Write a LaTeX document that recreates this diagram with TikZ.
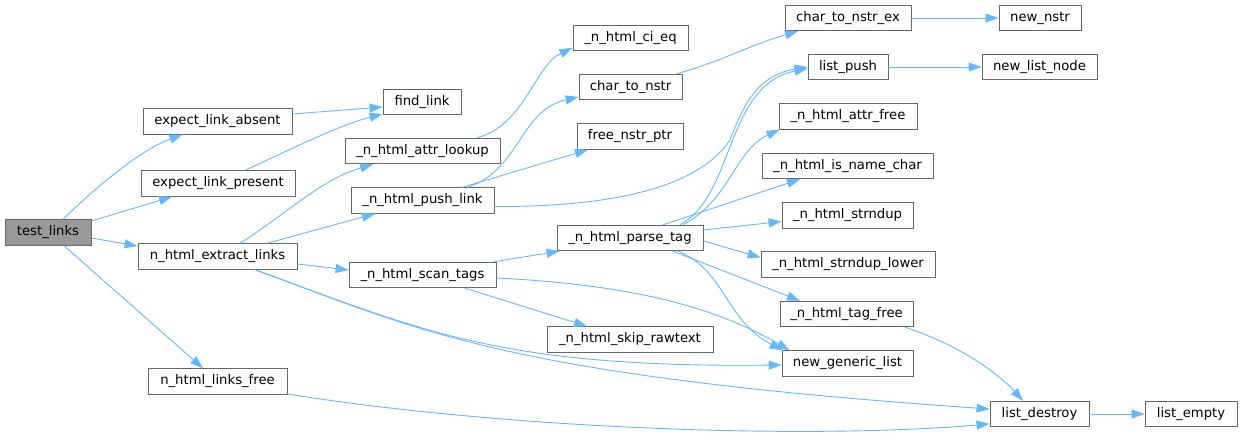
\documentclass[tikz,border=0pt]{standalone}
\usepackage{fontspec}
\setmainfont{DejaVu Sans}
\usetikzlibrary{arrows.meta,calc}
\definecolor{edgeblue}{HTML}{63B8FF}
\definecolor{boxline}{HTML}{666666}
\definecolor{rootfill}{HTML}{999999}
\tikzset{
  fbox/.style={draw=boxline, fill=white, line width=0.9pt, minimum height=25.5pt, inner sep=0pt, font=\fontsize{13.2}{15}\selectfont, text=black},
  rootbox/.style={fbox, fill=rootfill},
  calledge/.style={draw=edgeblue, line width=0.9pt, -{Triangle[length=13pt,width=9pt]}}
}
\begin{document}
\begin{tikzpicture}[x=1pt,y=-1pt]
\useasboundingbox (0,0) rectangle (1241,444);
% nodes
\node[rootbox, minimum width=86pt]  (tl)  at (48,232.5)   {test\_links};
\node[fbox, minimum width=149pt] (ela) at (217.5,121.5) {expect\_link\_absent};
\node[fbox, minimum width=154pt] (elp) at (218,183.5)   {expect\_link\_present};
\node[fbox, minimum width=159pt] (hel) at (217.5,256.5) {n\_html\_extract\_links};
\node[fbox, minimum width=139pt] (hlf) at (217.5,381.5) {n\_html\_links\_free};
\node[fbox, minimum width=78pt]  (fl)  at (422,102)     {find\_link};
\node[fbox, minimum width=155pt] (al)  at (422.5,151)   {\_n\_html\_attr\_lookup};
\node[fbox, minimum width=143pt] (pl)  at (422.5,200.5) {\_n\_html\_push\_link};
\node[fbox, minimum width=147pt] (st)  at (422.5,275)   {\_n\_html\_scan\_tags};
\node[fbox, minimum width=115pt] (ce)  at (630.5,38)    {\_n\_html\_ci\_eq};
\node[fbox, minimum width=103pt] (ctn) at (630.5,87)    {char\_to\_nstr};
\node[fbox, minimum width=106pt] (fnp) at (630,136.5)   {free\_nstr\_ptr};
\node[fbox, minimum width=146pt] (pt)  at (630,238)     {\_n\_html\_parse\_tag};
\node[fbox, minimum width=166pt] (sr)  at (630,339.5)   {\_n\_html\_skip\_rawtext};
\node[fbox, minimum width=126pt] (ctne) at (848,18)     {char\_to\_nstr\_ex};
\node[fbox, minimum width=80pt]  (lp)  at (848,67)      {list\_push};
\node[fbox, minimum width=138pt] (af)  at (848,116.5)   {\_n\_html\_attr\_free};
\node[fbox, minimum width=171pt] (inc) at (847.5,166)   {\_n\_html\_is\_name\_char};
\node[fbox, minimum width=131pt] (sd)  at (847.5,215.5) {\_n\_html\_strndup};
\node[fbox, minimum width=174pt] (sdl) at (848,264.5)   {\_n\_html\_strndup\_lower};
\node[fbox, minimum width=133pt] (tf)  at (846.5,314)   {\_n\_html\_tag\_free};
\node[fbox, minimum width=131pt] (ngl) at (847.5,363.5) {new\_generic\_list};
\node[fbox, minimum width=99pt]  (ld)  at (1039.5,414)  {list\_destroy};
\node[fbox, minimum width=82pt]  (nn)  at (1040,18)     {new\_nstr};
\node[fbox, minimum width=115pt] (nln) at (1039.5,67)   {new\_list\_node};
\node[fbox, minimum width=92pt]  (le)  at (1191,414)    {list\_empty};
% edges
\draw[calledge] ($(tl.north)+(15,0)$) .. controls (95,188) and (140,150) .. ($(ela.south)+(-35,0)$);
\draw[calledge] ($(tl.east)+(0,-11.5)$) -- ($(elp.south)+(-46,0)$);
\draw[calledge] ($(tl.east)+(0,5.5)$) -- ($(hel.west)+(0,-10.5)$);
\draw[calledge] ($(tl.south)+(16,0)$) -- ($(hlf.north)+(-14.5,0)$);
\draw[calledge] ($(ela.east)+(0,-7.5)$) -- ($(fl.west)+(0,5)$);
\draw[calledge] ($(elp.north)+(27,0)$) .. controls (300,145) and (340,125) .. ($(fl.west)+(0,12)$);
\draw[calledge] ($(hel.north)+(22.5,0)$) .. controls (285,215) and (320,180) .. ($(al.south)+(-49.5,0)$);
\draw[calledge] ($(hel.north)+(49.5,0)$) -- ($(pl.south)+(-47.5,0)$);
\draw[calledge] ($(hel.east)+(0,7.5)$) -- ($(st.west)+(0,-5)$);
\draw[calledge] ($(hel.south)+(37.5,0)$) .. controls (420,330) and (500,368) .. ($(ngl.west)+(0,1.5)$);
\draw[calledge] ($(hel.south)+(37.5,0)$) .. controls (420,330) and (500,375) .. ($(ld.west)+(0,-5)$);
\draw[calledge] ($(hlf.east)+(0,12.5)$) .. controls (500,428) and (800,440) .. ($(ld.west)+(0,10)$);
\draw[calledge] ($(al.north)+(54.5,0)$) .. controls (525,125) and (535,65) .. ($(ce.west)+(0,10)$);
\draw[calledge] ($(pl.north)+(45,0)$) .. controls (520,170) and (520,110) .. ($(ctn.west)+(0,10)$);
\draw[calledge] ($(pl.north)+(40,0)$) -- ($(fnp.south)+(-42,0)$);
\draw[calledge] ($(pl.east)+(0,6)$) .. controls (620,207) and (700,185) .. (730,140) .. controls (745,100) and (760,75) .. (lp.west);
\draw[calledge] ($(ctn.north)+(46,0)$) .. controls (720,62) and (750,45) .. ($(ctne.south)+(-50,0)$);
\draw[calledge] (ctne.east) -- (nn.west);
\draw[calledge] (lp.east) -- (nln.west);
\draw[calledge] ($(st.north)+(71,0)$) -- ($(pt.south west)+(3,0)$);
\draw[calledge] ($(st.south)+(42.5,0)$) -- ($(sr.north)+(-43,0)$);
\draw[calledge] ($(st.east)+(0,3)$) .. controls (640,285) and (720,310) .. ($(ngl.north west)+(8,0)$);
\draw[calledge] ($(pt.north)+(50,0)$) .. controls (735,195) and (725,85) .. ($(lp.west)+(0,1.5)$);
\draw[calledge] ($(pt.north)+(53,0)$) .. controls (730,200) and (735,150) .. ($(af.south west)+(1,0)$);
\draw[calledge] ($(pt.north)+(33,0)$) -- ($(inc.south)+(-47.5,0)$);
\draw[calledge] ($(pt.east)+(0,-8)$) -- ($(sd.west)+(0,6)$);
\draw[calledge] ($(pt.east)+(0,3)$) -- ($(sdl.west)+(0,-7)$);
\draw[calledge] ($(pt.south)+(43,0)$) -- ($(tf.north)+(-46.5,0)$);
\draw[calledge] ($(pt.south)+(48,0)$) .. controls (725,270) and (725,320) .. ($(ngl.north west)+(1,0)$);
\draw[calledge] ($(tf.south)+(58.5,0)$) .. controls (960,345) and (1000,375) .. ($(ld.north)+(-16.5,0)$);
\draw[calledge] (ld.east) -- (le.west);
\end{tikzpicture}
\end{document}
